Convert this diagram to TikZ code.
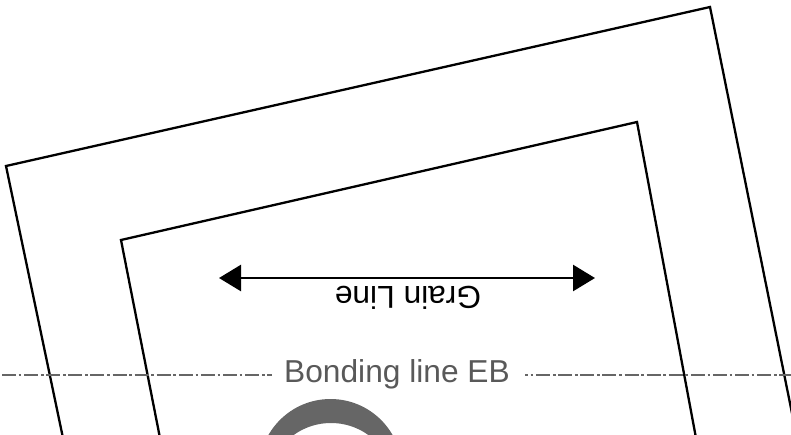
\documentclass[tikz,border=0pt]{standalone}
\usepackage{fontspec}
\setmainfont{Liberation Sans}
\usetikzlibrary{arrows.meta}
\tikzstyle{outline}=[draw=black,line width=2.3pt,line join=miter]
\tikzstyle{bonding}=[draw=black!60,line width=2.2pt,dash pattern=on 14pt off 2.7pt on 2.7pt off 2.7pt]
\tikzstyle{grain}=[draw=black,line width=2.6pt,{Triangle[length=22pt,width=26pt]}-{Triangle[length=22pt,width=26pt]}]
\tikzstyle{label}=[font=\fontsize{31.7}{36}\selectfont,inner sep=0pt]

\begin{document}
\begin{tikzpicture}[x=1pt,y=-1pt]
    \useasboundingbox (0,0) rectangle (791,434);
    \clip (0,0) rectangle (791,434);
    % seam allowance and stitching
    \draw[outline] (63,438) -- (6,166) -- (710,7) -- (797,438);
    \draw[outline] (160,438) -- (121,240) -- (637,122) -- (696,438);
    % ring
    \fill[black!60,even odd rule] (330.5,470.5) circle (71.5) (331,487) circle (64);
    \coordinate (LeftEnd) at (2,375);
    \coordinate (RightEnd) at (791,375);
    \node[label,text=black!65] (bond) at (397,374) {Bonding line EB};
    \path[bonding] (LeftEnd) -- (272,375);
    \path[bonding,dash phase=11pt] (525,375) -- (RightEnd);
    \coordinate (GrainL) at (219,278);
    \coordinate (GrainR) at (595,278);
    \path[grain] (GrainL) -- (GrainR);
    \node[label,text=black,rotate=180] (grainlabel) at (408,298) {Grain Line};
\end{tikzpicture}
\end{document}
